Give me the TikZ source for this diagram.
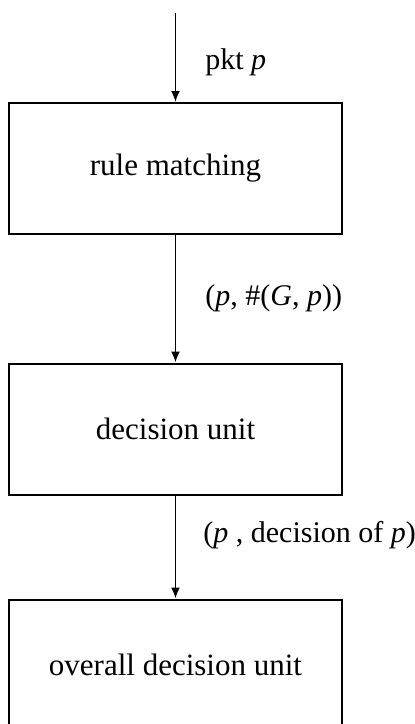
\documentclass[tikz,border=0pt]{standalone}
\usepackage{fontspec}
\setmainfont{Liberation Serif}
\usetikzlibrary{arrows.meta}
\begin{document}
\begin{tikzpicture}[x=0.5pt,y=-0.5pt,
  box/.style={draw,line width=1pt,minimum width=166.5pt,minimum height=65.5pt,inner sep=0pt,font=\fontsize{15.5}{18}\selectfont},
  lbl/.style={anchor=west,inner sep=0pt,font=\fontsize{15}{18}\selectfont},
  conn/.style={line width=0.9pt,-{Latex[length=5.5pt,width=4.5pt]}}]
\useasboundingbox (0,0) rectangle (415,724);
\clip (0,0) rectangle (415,724);
\node[box] (b1) at (175.5,168.5) {rule matching};
\node[box] (b2) at (175.5,429) {decision unit};
\node[box] (b3) at (175.5,665) {overall decision unit};
\coordinate (top) at (175.5,13);
\draw[conn] (top) -- (b1.north);
\draw[conn] (b1.south) -- (b2.north);
\draw[conn] (b2.south) -- (b3.north);
\node[lbl] (l1) at (205,62) {pkt \textit{p}};
\node[lbl] (l2) at (205,298) {(\textit{p}, \#(\textit{G}, \textit{p}))};
\node[lbl] (l3) at (203,535) {(\textit{p} , decision of \textit{p})};
\end{tikzpicture}
\end{document}
